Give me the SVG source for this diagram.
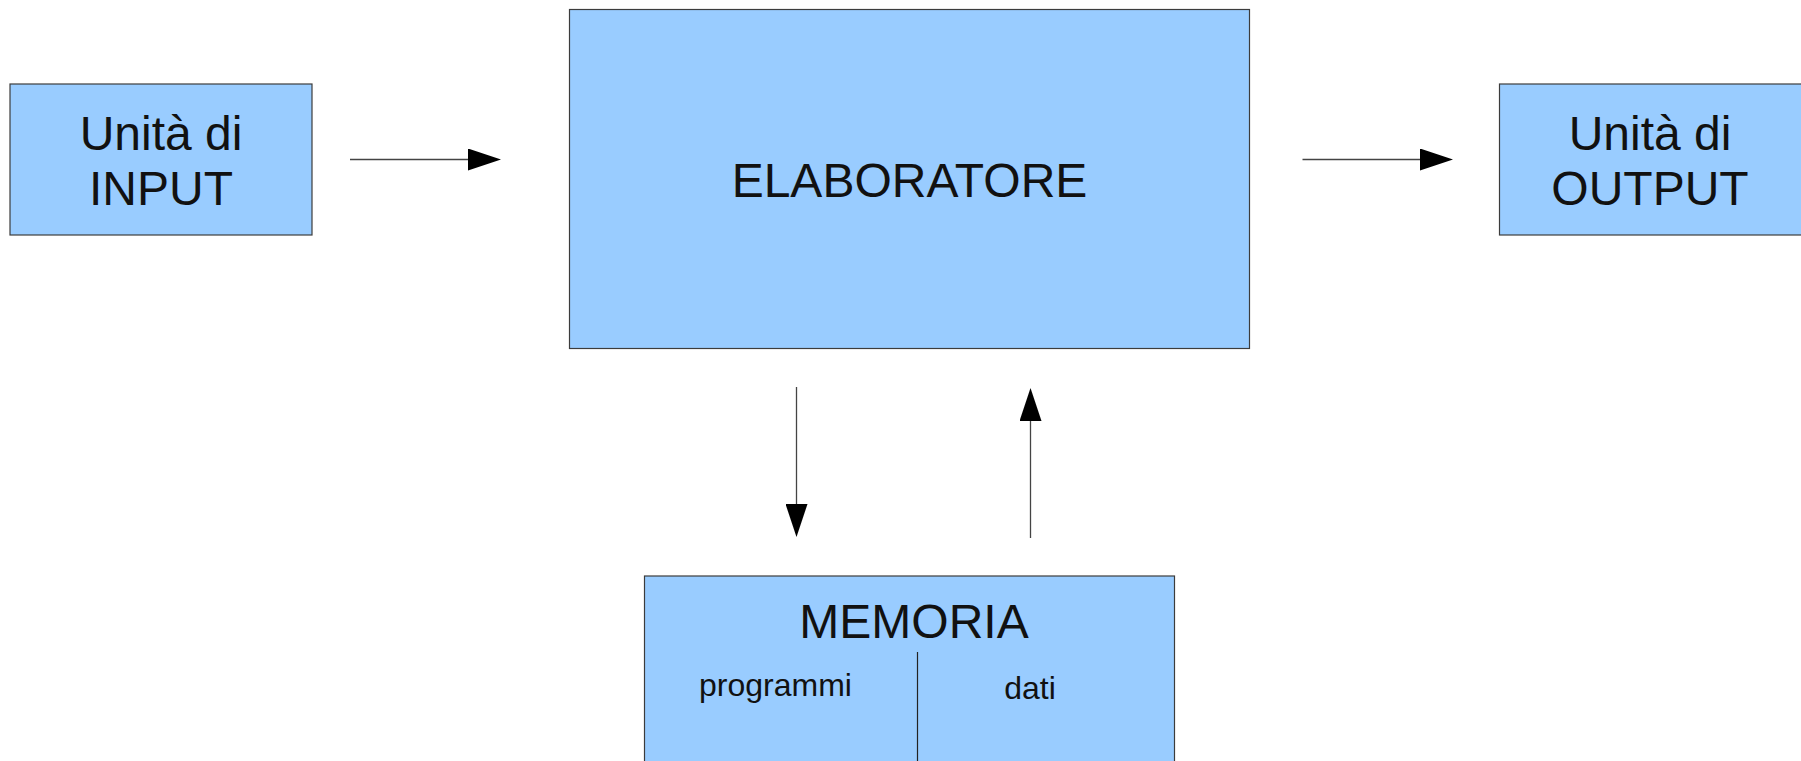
<svg xmlns="http://www.w3.org/2000/svg" width="1801" height="761" viewBox="0 0 1801 761">
<style>
.box{fill:#99ccff;stroke:#3c3c3c;stroke-width:1.2}
.t{font-family:"Liberation Sans",Arial,sans-serif;fill:#111;text-anchor:middle}
.big{font-size:48px}
.small{font-size:32px}
.conn{stroke:#444;stroke-width:1.3;fill:none}
</style>
<defs>
<marker id="ah" markerUnits="userSpaceOnUse" viewBox="0 0 33 22" markerWidth="33" markerHeight="22" refX="0" refY="11" orient="auto">
<path d="M0,0 L33,11 L0,22 Z" fill="#000"/>
</marker>
</defs>
<rect width="1801" height="761" fill="#fff"/>
<g id="input">
<rect class="box" x="10" y="84" width="302" height="151"/>
<text class="t big" x="161" y="150">Unità di</text>
<text class="t big" x="161" y="205">INPUT</text>
</g>
<g id="elaboratore">
<rect class="box" x="569.5" y="9.5" width="680" height="339"/>
<text class="t big" x="909.5" y="197">ELABORATORE</text>
</g>
<g id="output">
<rect class="box" x="1499.5" y="84" width="310" height="151"/>
<text class="t big" x="1650" y="150">Unità di</text>
<text class="t big" x="1650" y="205">OUTPUT</text>
</g>
<g id="memoria">
<rect class="box" x="644.5" y="576" width="530" height="200"/>
<line x1="917.5" y1="652" x2="917.5" y2="761" stroke="#222" stroke-width="1.2"/>
<text class="t big" x="914" y="638">MEMORIA</text>
<text class="t small" x="775.5" y="696">programmi</text>
<text class="t small" x="1030" y="699">dati</text>
</g>
<g id="connectors">
<line class="conn" x1="350" y1="159.5" x2="468" y2="159.5" marker-end="url(#ah)"/>
<line class="conn" x1="1302.5" y1="159.5" x2="1420" y2="159.5" marker-end="url(#ah)"/>
<line class="conn" x1="796.5" y1="387" x2="796.5" y2="504" marker-end="url(#ah)"/>
<line class="conn" x1="1030.5" y1="538" x2="1030.5" y2="421" marker-end="url(#ah)"/>
</g>
</svg>
